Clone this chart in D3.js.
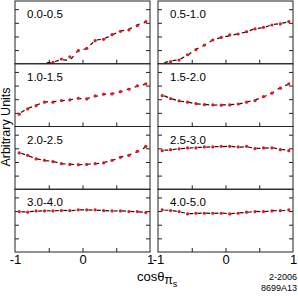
<!DOCTYPE html>
<html>
<head>
<meta charset="utf-8">
<script src="https://cdn.jsdelivr.net/npm/d3@7"></script>
<style>
body { margin: 0; background: #fff; }
svg { display: block; font-family: "Liberation Sans", Arial, sans-serif; }
</style>
</head>
<body>
<div id="chart"></div>
<script>
// cos(theta) bin centres, 16 bins from -1 to 1
const binCenters = [-0.9375, -0.8125, -0.6875, -0.5625, -0.4375, -0.3125, -0.1875, -0.0625,
    0.0625, 0.1875, 0.3125, 0.4375, 0.5625, 0.6875, 0.8125, 0.9375];

const panelLabels = ['0.0-0.5', '0.5-1.0', '1.0-1.5', '1.5-2.0', '2.0-2.5', '2.5-3.0', '3.0-4.0', '4.0-5.0'];

// red points (one array per panel)
const red00 = [null, null, null, null, 0.10, 0.35, 0.51, 0.96, 1.13, 1.69, 1.79, 2.13, 2.38, 2.48, 2.79, 3.09];
const red05 = [null, 0.15, 0.27, 0.66, 1.03, 1.37, 1.74, 1.94, 2.11, 2.18, 2.35, 2.55, 2.67, 2.84, 2.92, 3.09];
const red10 = [0.90, 1.29, 1.53, 1.78, 1.78, 1.90, 1.95, 2.07, 2.02, 2.24, 2.37, 2.39, 2.56, 2.73, 2.98, 3.13];
const red15 = [2.26, 2.04, 1.88, 1.78, 1.68, 1.60, 1.58, 1.56, 1.58, 1.65, 1.78, 1.90, 2.19, 2.44, 2.81, 3.13];
const red20 = [2.66, 2.49, 2.22, 2.12, 2.02, 1.88, 1.82, 1.80, 1.82, 1.88, 1.93, 2.12, 2.34, 2.49, 2.78, 3.15];
const red25 = [2.83, 2.90, 2.96, 3.03, 3.03, 3.10, 3.10, 3.15, 3.15, 3.10, 3.15, 2.98, 3.03, 3.03, 2.90, 2.83];
const red30 = [2.96, 2.92, 3.01, 3.01, 3.01, 3.04, 3.04, 3.09, 3.09, 3.09, 3.04, 3.01, 3.01, 2.96, 2.96, 2.89];
const red40 = [3.09, 3.04, 2.96, 2.79, 2.84, 2.84, 2.84, 2.84, 2.79, 2.84, 2.92, 2.96, 2.96, 3.01, 3.04, 3.09];

// black (dashed) series
const blk00 = [null, null, null, 0.05, 0.12, 0.30, 0.25, 0.98, 1.10, 1.72, 1.82, 2.10, 2.40, 2.52, 2.85, 3.05];
const blk05 = [0.05, 0.20, 0.30, 0.62, 1.06, 1.35, 1.76, 1.92, 2.05, 2.20, 2.33, 2.58, 2.64, 2.86, 2.95, 3.06];
const blk10 = [0.95, 1.32, 1.55, 1.80, 1.82, 1.88, 1.97, 2.04, 2.05, 2.20, 2.35, 2.42, 2.52, 2.76, 2.95, 3.10];
const blk15 = [2.30, 2.06, 1.86, 1.80, 1.66, 1.62, 1.57, 1.58, 1.60, 1.63, 1.80, 1.95, 2.16, 2.46, 2.85, 3.10];
const blk20 = [2.70, 2.46, 2.25, 2.10, 2.05, 1.86, 1.84, 1.79, 1.84, 1.86, 1.96, 2.10, 2.36, 2.52, 2.74, 3.10];
const blk25 = [2.86, 2.88, 2.98, 3.00, 3.06, 3.08, 3.12, 3.12, 3.16, 3.08, 3.12, 3.00, 3.00, 3.06, 2.92, 2.86];
const blk30 = [2.94, 2.95, 2.99, 3.03, 3.00, 3.06, 3.02, 3.08, 3.10, 3.06, 3.05, 3.00, 3.03, 2.98, 2.94, 2.92];
const blk40 = [3.06, 3.06, 2.94, 2.82, 2.82, 2.86, 2.82, 2.86, 2.80, 2.86, 2.90, 2.98, 2.94, 3.03, 3.02, 3.06];

const redSeries = [red00, red05, red10, red15, red20, red25, red30, red40];
const blackSeries = [blk00, blk05, blk10, blk15, blk20, blk25, blk30, blk40];

const margin = { top: 1, left: 15 };
const panelW = 135;
const colGap = 8;
const panelH = 62.75;

const svg = d3.select('#chart').append('svg').attr('width', 298).attr('height', 296);

const x = d3.scaleLinear().domain([-1, 1]).range([0, panelW]);
const y = d3.scaleLinear().domain([0, 4.6]).range([panelH, 0]);

const line = d3.line()
    .defined(d => d[1] != null)
    .x(d => x(d[0]))
    .y(d => y(d[1]));

function drawPanel(i) {
    const col = i % 2;
    const row = Math.floor(i / 2);
    const g = svg.append('g')
        .attr('transform', 'translate(' + (margin.left + col * (panelW + colGap)) + ',' + (margin.top + row * panelH) + ')');

    g.append('clipPath').attr('id', 'clip' + i)
        .append('rect').attr('width', panelW).attr('height', panelH);

    // inside-pointing ticks
    const left = g.append('g').call(d3.axisLeft(y).tickValues([1, 2, 3, 4]).tickSize(-4).tickFormat(''));
    const right = g.append('g').attr('transform', 'translate(' + panelW + ',0)')
        .call(d3.axisRight(y).tickValues([1, 2, 3, 4]).tickSize(-4).tickFormat(''));
    const bottom = g.append('g').attr('transform', 'translate(0,' + panelH + ')')
        .call(d3.axisBottom(x).tickValues([-0.5, 0, 0.5]).tickSize(-4).tickFormat(''));
    [left, right, bottom].forEach(a => {
        a.select('.domain').remove();
        a.selectAll('line').attr('stroke', '#222');
    });

    const plot = g.append('g').attr('clip-path', 'url(#clip' + i + ')');
    const blk = binCenters.map((c, k) => [c, blackSeries[i][k]]);
    const red = binCenters.map((c, k) => [c, redSeries[i][k]]).filter(d => d[1] != null);

    plot.append('path')
        .attr('d', line(blk))
        .attr('fill', 'none')
        .attr('stroke', '#111')
        .attr('stroke-width', 1.2)
        .attr('stroke-dasharray', '4,4.4')
        .attr('stroke-dashoffset', -2.2);

    plot.selectAll('circle').data(red).join('circle')
        .attr('cx', d => x(d[0]))
        .attr('cy', d => y(d[1]))
        .attr('r', 1.6)
        .attr('fill', '#e8141c');

    g.append('rect')
        .attr('width', panelW).attr('height', panelH)
        .attr('fill', 'none').attr('stroke', '#222').attr('stroke-width', 1);

    g.append('text')
        .attr('x', 12).attr('y', 17)
        .attr('font-size', 11.5)
        .text(panelLabels[i]);

    if (row === 3) {
        const lab = g.append('g').attr('transform', 'translate(0,' + panelH + ')')
            .call(d3.axisBottom(x).tickValues([-1, 0, 1]).tickSize(0).tickPadding(3).tickFormat(d => String(d)));
        lab.select('.domain').remove();
        lab.selectAll('text').attr('font-size', 13).attr('font-family', '"Liberation Sans", Arial, sans-serif').attr('fill', '#000');
    }
}

d3.range(8).forEach(drawPanel);

// axis titles
svg.append('text')
    .attr('transform', 'translate(10,127) rotate(-90)')
    .attr('text-anchor', 'middle')
    .attr('font-size', 12.5)
    .text('Arbitrary Units');

const xt = svg.append('text')
    .attr('x', 137).attr('y', 281)
    .attr('font-size', 13);
xt.append('tspan').text('cos\u03b8');
xt.append('tspan').attr('dy', 3).attr('font-size', 12).text('\u03c0');
xt.append('tspan').attr('dy', 3).attr('font-size', 9).text('s');

svg.append('text').attr('x', 297).attr('y', 280).attr('text-anchor', 'end').attr('font-size', 9).text('2-2006');
svg.append('text').attr('x', 297).attr('y', 290.5).attr('text-anchor', 'end').attr('font-size', 9).text('8699A13');
</script>
</body>
</html>
